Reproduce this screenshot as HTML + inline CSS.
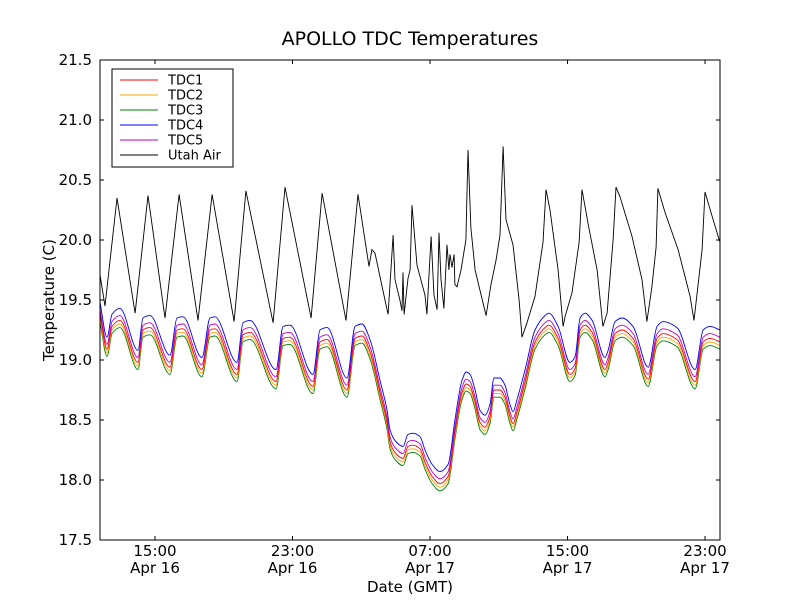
<!DOCTYPE html>
<html><head><meta charset="utf-8"><style>
body{margin:0;background:#fff;}
svg{display:block;font-family:"DejaVu Sans","Liberation Sans",sans-serif;}
</style></head><body>
<svg id="chart" width="800" height="600" viewBox="0 0 800 600">
<rect width="800" height="600" fill="#fff"/>
<text x="410" y="45" font-size="19" text-anchor="middle">APOLLO TDC Temperatures</text>
<g id="series"></g>
<rect x="100" y="60" width="620" height="480" fill="none" stroke="#000" stroke-width="1"/>
<g id="axes"></g>
<text x="410" y="592" font-size="15" text-anchor="middle">Date (GMT)</text>
<text x="54" y="300" font-size="15" text-anchor="middle" transform="rotate(-90 54 300)">Temperature (C)</text>
<g id="legend"></g>
</svg>
<script>
const tdcTimes=[11.80,12.21,12.50,12.96,14.01,14.30,14.71,15.87,16.28,16.63,17.73,18.20,18.49,19.77,20.12,20.53,22.04,22.45,22.85,24.19,24.60,25.01,26.17,26.64,27.04,27.51,28.09,28.50,28.67,28.96,29.43,29.72,30.01,30.42,30.71,31.12,31.58,32.05,32.45,32.86,33.10,33.33,33.62,33.91,34.20,34.49,34.72,35.07,35.36,35.65,35.83,36.06,36.53,37.11,37.69,37.92,38.45,39.14,39.44,39.73,40.02,40.43,41.18,41.36,41.77,42.17,42.81,43.69,44.21,44.56,45.37,46.42,46.89,47.29,47.87];
const tdc4=[19.48,19.19,19.38,19.43,19.08,19.35,19.37,19.04,19.35,19.36,19.02,19.35,19.36,18.98,19.31,19.33,18.92,19.28,19.29,18.88,19.25,19.27,18.85,19.28,19.30,19.17,18.83,18.58,18.42,18.33,18.28,18.38,18.39,18.36,18.25,18.13,18.07,18.13,18.50,18.83,18.90,18.88,18.75,18.58,18.54,18.63,18.85,18.85,18.79,18.63,18.57,18.67,18.92,19.25,19.37,19.39,19.28,18.98,19.03,19.35,19.39,19.33,19.02,19.08,19.32,19.35,19.28,18.94,19.28,19.32,19.27,18.92,19.25,19.28,19.25];
const tdc5=[19.42,19.13,19.32,19.37,19.02,19.29,19.31,18.98,19.29,19.30,18.96,19.29,19.30,18.92,19.25,19.27,18.86,19.22,19.23,18.82,19.19,19.21,18.79,19.22,19.24,19.11,18.77,18.52,18.36,18.27,18.22,18.32,18.33,18.30,18.19,18.07,18.01,18.07,18.44,18.77,18.84,18.82,18.69,18.52,18.48,18.57,18.79,18.79,18.73,18.57,18.51,18.61,18.86,19.19,19.31,19.33,19.22,18.92,18.97,19.29,19.33,19.27,18.96,19.02,19.26,19.29,19.22,18.88,19.22,19.26,19.21,18.86,19.19,19.22,19.19];
const tdc1=[19.38,19.09,19.28,19.33,18.98,19.25,19.27,18.94,19.25,19.26,18.92,19.25,19.26,18.88,19.21,19.23,18.82,19.18,19.19,18.78,19.15,19.17,18.75,19.18,19.20,19.07,18.73,18.48,18.32,18.23,18.18,18.28,18.29,18.26,18.15,18.03,17.97,18.03,18.40,18.73,18.80,18.78,18.65,18.48,18.44,18.53,18.75,18.75,18.69,18.53,18.47,18.57,18.82,19.15,19.27,19.29,19.18,18.88,18.93,19.25,19.29,19.23,18.92,18.98,19.22,19.25,19.18,18.84,19.18,19.22,19.17,18.82,19.15,19.18,19.15];
const tdc2=[19.35,19.06,19.25,19.30,18.95,19.22,19.24,18.91,19.22,19.23,18.89,19.22,19.23,18.85,19.18,19.20,18.79,19.15,19.16,18.75,19.12,19.14,18.72,19.15,19.17,19.04,18.70,18.45,18.29,18.20,18.15,18.25,18.26,18.23,18.12,18.00,17.94,18.00,18.37,18.70,18.77,18.75,18.62,18.45,18.41,18.50,18.72,18.72,18.66,18.50,18.44,18.54,18.79,19.12,19.24,19.26,19.15,18.85,18.90,19.22,19.26,19.20,18.89,18.95,19.19,19.22,19.15,18.81,19.15,19.19,19.14,18.79,19.12,19.15,19.12];
const tdc3=[19.32,19.03,19.22,19.27,18.92,19.19,19.21,18.88,19.19,19.20,18.86,19.19,19.20,18.82,19.15,19.17,18.76,19.12,19.13,18.72,19.09,19.11,18.69,19.12,19.14,19.01,18.67,18.42,18.26,18.17,18.12,18.22,18.23,18.20,18.09,17.97,17.91,17.97,18.34,18.67,18.74,18.72,18.59,18.42,18.38,18.47,18.69,18.69,18.63,18.47,18.41,18.51,18.76,19.09,19.21,19.23,19.12,18.82,18.87,19.19,19.23,19.17,18.86,18.92,19.16,19.19,19.12,18.78,19.12,19.16,19.11,18.76,19.09,19.12,19.09];
const airTimes=[11.80,12.09,12.79,13.84,14.59,15.58,16.40,17.50,18.32,19.60,20.29,21.87,22.56,24.08,24.72,26.11,26.81,27.45,27.62,27.80,28.26,28.56,28.85,28.96,29.25,29.37,29.43,29.49,29.72,29.84,29.95,30.24,30.71,30.82,31.06,31.23,31.41,31.52,31.64,31.81,31.99,32.10,32.16,32.28,32.40,32.45,32.57,32.80,33.09,33.21,33.38,33.62,33.91,34.26,34.55,34.84,35.07,35.25,35.42,35.83,36.18,36.35,36.64,37.11,37.57,37.75,37.98,38.45,38.74,38.85,39.26,39.67,39.84,40.19,40.72,41.06,41.30,41.65,41.82,42.05,42.75,43.33,43.62,43.91,44.15,44.26,44.67,45.43,46.13,46.36,46.83,47.00,47.47,47.87];
const utahAir=[19.71,19.45,20.35,19.39,20.37,19.35,20.38,19.33,20.38,19.32,20.41,19.31,20.44,19.35,20.39,19.33,20.38,19.78,19.92,19.89,19.58,19.38,20.04,19.67,19.50,19.41,19.73,19.38,19.68,19.75,20.29,19.79,19.54,19.38,20.03,19.54,19.42,20.06,19.67,19.43,19.96,19.75,19.88,19.77,19.88,19.63,19.61,19.75,20.00,20.75,20.10,19.75,19.58,19.37,19.63,19.83,20.04,20.78,20.17,19.96,19.50,19.19,19.31,19.53,19.98,20.42,20.25,19.75,19.28,19.36,19.56,19.98,20.42,20.14,19.75,19.28,19.39,20.00,20.44,20.36,20.03,19.67,19.32,19.61,19.94,20.43,20.23,19.92,19.53,19.33,19.92,20.40,20.17,19.98];
const yTicks=[17.5,18.0,18.5,19.0,19.5,20.0,20.5,21.0,21.5];
const xTickTimes=[15,23,31,39,47];
const xTickHours=["15:00","23:00","07:00","15:00","23:00"];
const xTickDays=["Apr 16","Apr 16","Apr 17","Apr 17","Apr 17"];
const seriesNames=["TDC1","TDC2","TDC3","TDC4","TDC5","Utah Air"];
const seriesColors=["#ff0000","#ffa500","#008000","#0000ff","#bf00bf","#000000"];

const NS="http://www.w3.org/2000/svg";
const X0=100,X1=720,Y0=540,Y1=60,TMIN=11.8,TMAX=47.87,VMIN=17.5,VMAX=21.5;
function xs(t){return X0+(t-TMIN)/(TMAX-TMIN)*(X1-X0);}
function ys(v){return Y0-(v-VMIN)/(VMAX-VMIN)*(Y0-Y1);}
function mk(tag,attrs,parent){const e=document.createElementNS(NS,tag);for(const k in attrs)e.setAttribute(k,attrs[k]);parent.appendChild(e);return e;}

// monotone cubic path (no overshoot)
function smoothPath(px,py){
  const n=px.length,dx=[],s=[],m=new Array(n);
  for(let i=0;i<n-1;i++){dx[i]=px[i+1]-px[i];s[i]=(py[i+1]-py[i])/dx[i];}
  m[0]=s[0];m[n-1]=s[n-2];
  for(let i=1;i<n-1;i++){m[i]=(s[i-1]*s[i]<=0)?0:(3*(dx[i-1]+dx[i]))/((2*dx[i]+dx[i-1])/s[i-1]+(dx[i]+2*dx[i-1])/s[i]);}
  let d='M'+px[0].toFixed(1)+' '+py[0].toFixed(1);
  for(let i=0;i<n-1;i++){const h=dx[i]/3;
    d+=' C'+(px[i]+h).toFixed(1)+' '+(py[i]+m[i]*h).toFixed(1)+' '+(px[i+1]-h).toFixed(1)+' '+(py[i+1]-m[i+1]*h).toFixed(1)+' '+px[i+1].toFixed(1)+' '+py[i+1].toFixed(1);}
  return d;
}

const sg=document.getElementById('series');
function drawLine(times,vals,color,name,smooth){
  const px=times.map(xs),py=vals.map(ys);
  const d=smooth?smoothPath(px,py):px.map((x,i)=>(i?'L':'M')+x.toFixed(1)+' '+py[i].toFixed(1)).join(' ');
  const p=mk('path',{d:d,fill:'none',stroke:color,'stroke-width':0.9},sg);
  
  
}
drawLine(tdcTimes,tdc3,seriesColors[2],'tdc3-line',true);
drawLine(tdcTimes,tdc2,seriesColors[1],'tdc2-line',true);
drawLine(tdcTimes,tdc1,seriesColors[0],'tdc1-line',true);
drawLine(tdcTimes,tdc5,seriesColors[4],'tdc5-line',true);
drawLine(tdcTimes,tdc4,seriesColors[3],'tdc4-line',true);
drawLine(airTimes,utahAir,seriesColors[5],'utah-air-line',false);

const ag=document.getElementById('axes');
yTicks.forEach(v=>{
  const y=ys(v);
  const l1=mk('line',{x1:X0,x2:X0+4,y1:y,y2:y,stroke:'#000'},ag);
  
  
  const l2=mk('line',{x1:X1-4,x2:X1,y1:y,y2:y,stroke:'#000'},ag);
  
  
  const t=mk('text',{x:X0-8,y:y+5,'font-size':15,'text-anchor':'end'},ag);
  t.textContent=v.toFixed(1);
  
  
});
xTickTimes.forEach((tt,i)=>{
  const x=xs(tt);
  const l1=mk('line',{x1:x,x2:x,y1:Y0,y2:Y0-4,stroke:'#000'},ag);
  
  
  const l2=mk('line',{x1:x,x2:x,y1:Y1,y2:Y1+4,stroke:'#000'},ag);
  
  
  const t1=mk('text',{x:x,y:556,'font-size':15,'text-anchor':'middle'},ag);
  t1.textContent=xTickHours[i];
  
  
  const t2=mk('text',{x:x,y:573,'font-size':15,'text-anchor':'middle'},ag);
  t2.textContent=xTickDays[i];
  
  
});

const lg=document.getElementById('legend');
const box=mk('rect',{x:112,y:69,width:121,height:98,fill:'#fff',stroke:'#000'},lg);


seriesNames.forEach((n,i)=>{
  const y=80+i*15;
  const l=mk('line',{x1:120,x2:158,y1:y,y2:y,stroke:seriesColors[i],'stroke-width':0.9},lg);
  
  
  const t=mk('text',{x:168,y:y+4.5,'font-size':13},lg);
  t.textContent=n;
  
  
});
</script>
</body></html>
